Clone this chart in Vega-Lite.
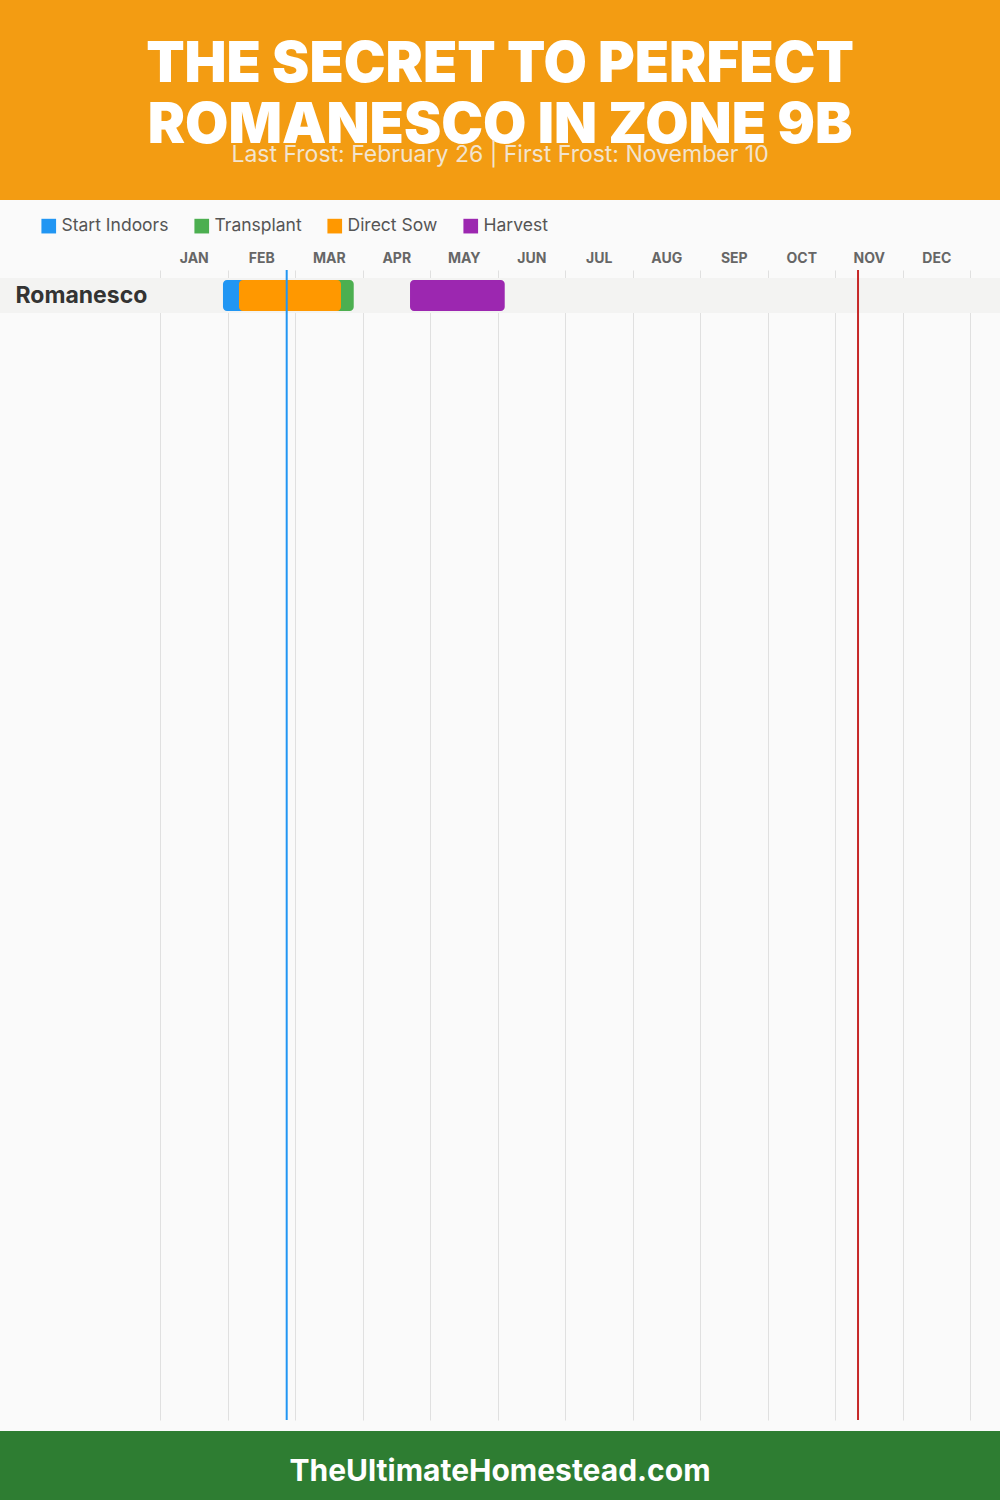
{
  "$schema": "https://vega.github.io/schema/vega-lite/v6.json",
  "background": "#FAFAFA",
  "padding": 0,
  "spacing": 10,
  "config": {"view": {"stroke": null}, "font": "Inter"},
  "datasets": {
    "crops": [{"crop": "Romanesco"}],
    "stages": [
      {"crop": "Romanesco", "stage": "Start Indoors", "start": 0.933, "end": 1.6},
      {"crop": "Romanesco", "stage": "Transplant", "start": 1.5, "end": 2.87},
      {"crop": "Romanesco", "stage": "Direct Sow", "start": 1.17, "end": 2.681},
      {"crop": "Romanesco", "stage": "Harvest", "start": 3.704, "end": 5.107}
    ],
    "frost": [
      {"event": "Last Frost", "month": 1.877},
      {"event": "First Frost", "month": 10.341}
    ]
  },
  "vconcat": [
    {
      "width": 1000,
      "height": 200,
      "view": {"fill": "#F39C12", "stroke": null},
      "data": {"values": [{"header": "title"}]},
      "layer": [
        {
          "mark": {"type": "text", "text": ["THE SECRET TO PERFECT", "ROMANESCO IN ZONE 9B"], "font": "Inter", "fontWeight": 900, "fontSize": 56, "lineHeight": 61, "color": "#FFFFFF", "align": "center", "baseline": "middle", "dy": -35},
          "encoding": {}
        },
        {
          "mark": {"type": "text", "text": "Last Frost: February 26 | First Frost: November 10", "font": "Inter", "fontSize": 23, "color": "#F2E4CF", "align": "center", "baseline": "middle", "dy": 55},
          "encoding": {}
        }
      ]
    },
    {
      "width": 1000,
      "height": 1150,
      "layer": [
        {
          "data": {"name": "crops"},
          "mark": {"type": "rect", "color": "#F3F3F2"},
          "encoding": {
            "y": {"field": "crop", "type": "nominal",
              "scale": {"domain": ["Romanesco"], "range": [8, 43], "paddingInner": 0, "paddingOuter": 0},
              "axis": {"orient": "left", "ticks": false, "tickSize": 0, "domain": false, "labelAlign": "left", "labelBaseline": "middle", "labelPadding": -15, "labelFontSize": 23, "labelFontWeight": "bold", "labelColor": "#333333", "labelFont": "Inter", "title": null, "zindex": 1}}
          }
        },
        {
          "data": {"name": "stages"},
          "mark": {"type": "bar", "cornerRadius": 4, "height": {"band": 0.886}},
          "encoding": {
            "y": {"field": "crop", "type": "nominal",
              "scale": {"domain": ["Romanesco"], "range": [8, 43], "paddingInner": 0, "paddingOuter": 0},
              "axis": {"orient": "left", "ticks": false, "tickSize": 0, "domain": false, "labelAlign": "left", "labelBaseline": "middle", "labelPadding": -15, "labelFontSize": 23, "labelFontWeight": "bold", "labelColor": "#333333", "labelFont": "Inter", "title": null, "zindex": 1}},
            "x": {"field": "start", "type": "quantitative",
              "scale": {"domain": [-2.3704, 12.4444], "nice": false, "zero": false},
              "axis": {"orient": "top", "values": [0.5, 1.5, 2.5, 3.5, 4.5, 5.5, 6.5, 7.5, 8.5, 9.5, 10.5, 11.5],
                "labelExpr": "['JAN','FEB','MAR','APR','MAY','JUN','JUL','AUG','SEP','OCT','NOV','DEC'][floor(datum.value)]",
                "labelFontSize": 14, "labelFontWeight": "bold", "labelColor": "#666666", "labelFont": "Inter",
                "ticks": false, "domain": false, "grid": false, "labelPadding": 5, "title": null}},
            "x2": {"field": "end"},
            "color": {"field": "stage", "type": "nominal",
              "scale": {"domain": ["Start Indoors", "Transplant", "Direct Sow", "Harvest"], "range": ["#2196F3", "#4CAF50", "#FF9800", "#9C27B0"]},
              "legend": {"orient": "none", "legendX": 33, "legendY": -60, "padding": 7, "direction": "horizontal", "symbolType": "square", "symbolSize": 215, "symbolStrokeWidth": 0, "symbolOpacity": 1, "labelFontSize": 17.5, "labelColor": "#555555", "labelFont": "Inter", "labelOffset": 4, "columnPadding": 24, "title": null}}
          }
        },
        {
          "data": {"name": "frost"},
          "mark": {"type": "rule", "strokeWidth": 2},
          "encoding": {
            "x": {"field": "month", "type": "quantitative",
              "axis": {"orient": "bottom", "values": [0, 1, 2, 3, 4, 5, 6, 7, 8, 9, 10, 11, 12], "grid": true, "gridColor": "#E0E0E0", "gridWidth": 1, "labels": false, "ticks": false, "domain": false, "title": null}},
            "color": {"field": "event", "type": "nominal",
              "scale": {"domain": ["Last Frost", "First Frost"], "range": ["#2196F3", "#C62828"]},
              "legend": null}
          }
        }
      ],
      "resolve": {"scale": {"color": "independent"}, "axis": {"x": "independent"}}
    },
    {
      "width": 1000,
      "height": 70,
      "view": {"fill": "#2E7D32", "stroke": null},
      "data": {"values": [{"site": "TheUltimateHomestead.com"}]},
      "mark": {"type": "text", "font": "Inter", "fontSize": 30, "fontWeight": "bold", "color": "#FFFFFF", "align": "center", "baseline": "middle", "dy": 6},
      "encoding": {"text": {"field": "site", "type": "nominal"}}
    }
  ]
}
